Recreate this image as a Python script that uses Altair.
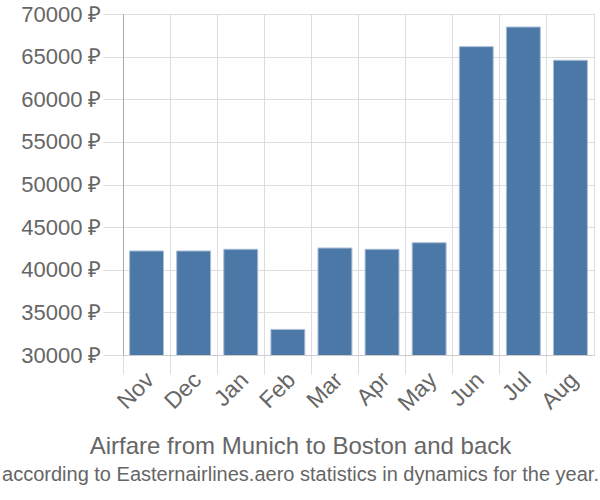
import altair as alt
import pandas as pd

months = ["Nov", "Dec", "Jan", "Feb", "Mar", "Apr", "May", "Jun", "Jul", "Aug"]
prices = [42200, 42200, 42400, 33000, 42550, 42400, 43170, 66170, 68470, 64570]

df = pd.DataFrame({"month": months, "price": prices})

FONT = "Liberation Sans"
GREY = "#666666"

chart = alt.Chart(df).mark_bar(
    color="#4c78a8", width=alt.RelativeBandSize(0.72), stroke="#a9bdd6", strokeWidth=1,
    clip=True,
).encode(
    x=alt.X("month:N", sort=months, title=None,
            scale=alt.Scale(paddingInner=0, paddingOuter=0),
            axis=alt.Axis(labelAngle=-45, labelAlign="right", labelBaseline="middle",
                          labelFontSize=23, labelColor=GREY, labelFont=FONT,
                          bandPosition=0, tickSize=19, tickColor="#dddddd",
                          gridColor="#dddddd", grid=True, domainColor="#cccccc",
                          labelPadding=2, labelOffset=4)),
    y=alt.Y("price:Q", title=None,
            scale=alt.Scale(domain=[30000, 70000], nice=False, zero=False),
            axis=alt.Axis(values=[30000, 35000, 40000, 45000, 50000, 55000, 60000, 65000, 70000],
                          labelExpr="datum.value + ' ₽'", labelFontSize=22, labelColor=GREY,
                          labelFont=FONT, tickSize=20, tickColor="#dddddd",
                          gridColor="#dddddd", domainColor="#aaaaaa", labelPadding=2)),
).properties(
    width=471, height=341,
    autosize=alt.AutoSizeParams(type="none"),
    padding={"left": 123, "top": 14, "right": 6, "bottom": 145},
    title=alt.TitleParams(
        text="Airfare from Munich to Boston and back",
        subtitle="according to Easternairlines.aero statistics in dynamics for the year.",
        orient="bottom", anchor="middle", frame="group", dx=-58,
        font=FONT, fontSize=24, fontWeight="normal", color=GREY,
        subtitleFont=FONT, subtitleFontSize=20, subtitleColor=GREY,
        offset=20, subtitlePadding=6,
    ),
).configure_view(stroke="#dddddd")

chart.save("out.html", embed_options={"renderer": "svg", "actions": False})
